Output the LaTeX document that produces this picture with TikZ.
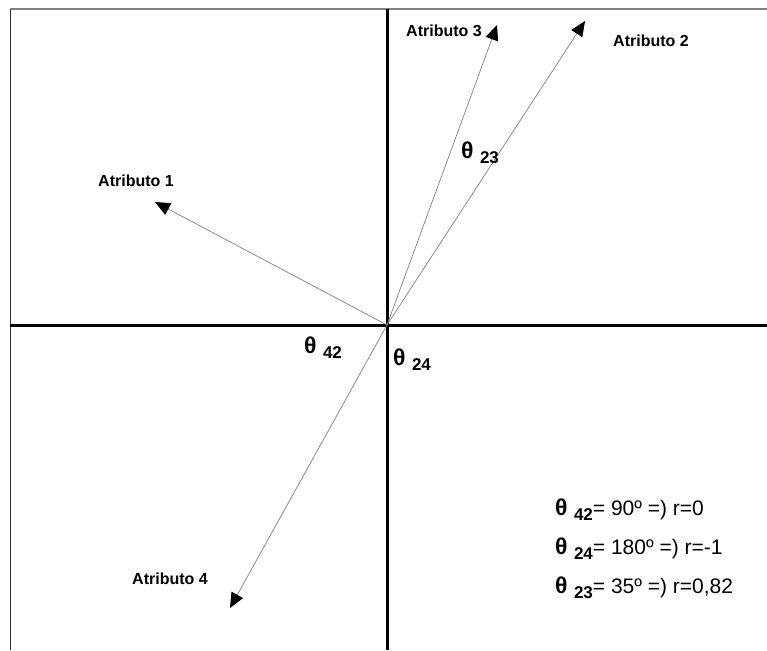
\documentclass[tikz,border=0pt]{standalone}
\usepackage{fontspec}
\setmainfont{Liberation Sans}
\usetikzlibrary{arrows.meta}

\newcommand{\thsub}[1]{{\fontsize{23}{26}\selectfont\bfseries θ\ }\raisebox{-5pt}{\fontsize{17}{20}\selectfont\bfseries #1}}

\begin{document}
\begin{tikzpicture}[x=1pt,y=-1pt,
    axis/.style={line width=3pt},
    vec/.style={gray, line width=0.7pt, -{Triangle[length=15pt,width=13pt,color=black]}},
    attr/.style={font=\fontsize{16}{19}\selectfont\bfseries},
    ang/.style={anchor=base west, inner sep=0pt},
    leg/.style={anchor=base west, inner sep=0pt, font=\fontsize{21}{24}\selectfont}]

\useasboundingbox (0,0) rectangle (767,650);

% Frame
\draw[gray, line width=1.5pt] (10,9) -- (767,9);
\draw[black!80, line width=1pt] (10,9) -- (10,650);

% Axes
\draw[axis] (387,9) -- (387,650);
\draw[axis] (10,325) -- (767,325);

% Vectors
\coordinate (O) at (387,325);
\coordinate (t1) at (155,202);
\coordinate (t2) at (585,21);
\coordinate (t3) at (497,25);
\coordinate (t4) at (230,608);
\draw[vec] (O) -- (t1);
\draw[vec] (O) -- (t2);
\draw[vec] (O) -- (t3);
\draw[vec] (O) -- (t4);

% Labels
\node[attr] (a1) at (136,181) {Atributo 1};
\node[attr] (a2) at (651,41) {Atributo 2};
\node[attr] (a3) at (444,31) {Atributo 3};
\node[attr] (a4) at (170,579) {Atributo 4};

% Angles
\node[ang] (th23) at (461,158) {\thsub{23}};
\node[ang] (th42) at (304,353) {\thsub{42}};
\node[ang] (th24) at (393,365) {\thsub{24}};

% Legend
\node[leg] (l1) at (555,515) {\thsub{42}= 90º =) r=0};
\node[leg] (l2) at (555,554) {\thsub{24}= 180º =) r=-1};
\node[leg] (l3) at (555,593) {\thsub{23}= 35º =) r=0,82};

\end{tikzpicture}
\end{document}
